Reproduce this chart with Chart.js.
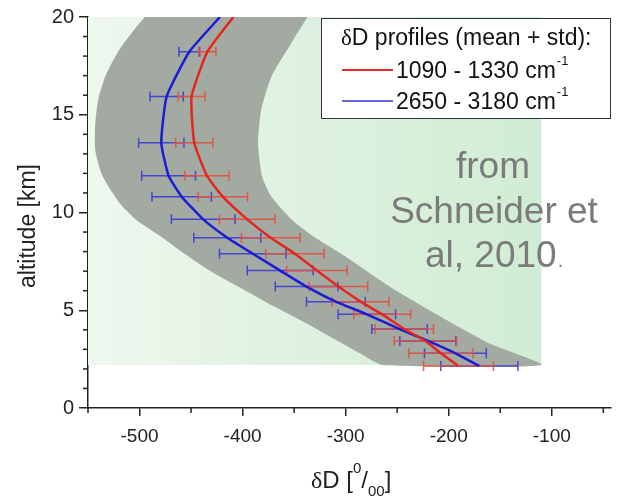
<!DOCTYPE html>
<html>
<head>
<meta charset="utf-8">
<script src="https://cdn.jsdelivr.net/npm/chart.js@4/dist/chart.umd.min.js"></script>
<style>
  html, body { margin: 0; padding: 0; background: #fff; }
</style>
</head>
<body>
<canvas id="perfil" width="617" height="499"></canvas>
<script>
// alturas de las barras de error [km] (la ultima es el tope del grafico, sin barra)
const alturas = [2.15, 2.80, 3.43, 4.04, 4.79, 5.44, 6.21, 7.03, 7.89, 8.71, 9.65, 10.81, 11.88, 13.57, 15.93, 18.22, 20];

// 1090 - 1330 cm-1 (rojo)
const rojoMedia = [-190.5, -207.6, -222.6, -243.1, -264.5, -285.5, -307, -327.9, -349.2, -372.7, -395.5, -419.2, -434.6, -446.9, -449.5, -434.2, -409];
const rojoStd = [33.9, 31.2, 30.2, 28.3, 27.6, 27.5, 28.4, 29.3, 28.3, 28.4, 26.9, 24, 21.6, 18, 13.2, 8.3, null];

// 2650 - 3180 cm-1 (azul)
const azulMedia = [-170.3, -193.5, -220.2, -247.7, -279.4, -309.5, -337.9, -363.5, -390.1, -414.8, -438.2, -459.1, -471.8, -478.9, -473.7, -451.7, -422];
const azulStd = [37.4, 30, 27.2, 26.9, 27.9, 28.5, 30.4, 32, 32.3, 32.5, 30.9, 28.8, 26.1, 22, 16.1, 10.1, null];

// banda gris: borde izquierdo (de arriba hacia abajo) y borde derecho (de abajo hacia arriba)
const bandaIzqAlt = [20, 19.3, 18.3, 17.0, 15.8, 14.5, 13.2, 12.0, 11.15, 10.4, 9.62, 8.76, 7.91, 7.06, 6.2, 5.35, 4.5, 3.65, 2.8, 2.2];
const bandaIzq = [-495, -506, -520, -533, -540, -543, -543, -537, -528, -518, -503, -479, -457, -433, -404, -375, -344, -315, -286, -264];
const bandaDerAlt = [2.2, 3.31, 4.79, 6.2, 7.91, 8.8, 9.62, 10.81, 11.83, 13.54, 15.24, 16.95, 18.65, 20];
const bandaDer = [-110, -161, -212, -257, -305, -332, -352, -372, -381, -385, -382, -372, -353, -337];

// fondo verde
const fondoX = [-550, -110, -110, -550];
const fondoAlt = [2.2, 2.2, 20, 20];

// ticks
const xTicks = [-500, -400, -300, -200, -100];
const xMenores = [-550, -450, -350, -250, -150, -50];
const yTicks = [0, 5, 10, 15, 20];
const yMenores = [1, 2, 3, 4, 6, 7, 8, 9, 11, 12, 13, 14, 16, 17, 18, 19];

const SANS = "'Liberation Sans', Arial, sans-serif";
const SERIF = "'Liberation Serif', 'Times New Roman', serif";

function puntos(xs, ys) {
    return xs.map((x, i) => ({x: x, y: ys[i]}));
}

function barras(media, std) {
    const out = [];
    alturas.forEach((a, i) => {
        if (std[i] == null) return;
        out.push({x: media[i] - std[i], y: a}, {x: media[i] + std[i], y: a}, {x: null, y: null});
    });
    return out;
}

// ticks chicos, leyenda, texto y titulos de los ejes
const extras = {
    id: 'extras',
    afterDraw(chart) {
        const {ctx, chartArea: a} = chart;
        const x = chart.scales.x, y = chart.scales.y;
        ctx.save();
        ctx.strokeStyle = '#222';
        ctx.lineWidth = 1.5;
        xMenores.forEach(v => {
            const px = x.getPixelForValue(v);
            ctx.beginPath(); ctx.moveTo(px, a.bottom); ctx.lineTo(px, a.bottom + 5); ctx.stroke();
        });
        yMenores.forEach(v => {
            const py = y.getPixelForValue(v);
            ctx.beginPath(); ctx.moveTo(a.left - 5, py); ctx.lineTo(a.left, py); ctx.stroke();
        });

        // leyenda
        ctx.fillStyle = '#fff';
        ctx.fillRect(321, 18, 289, 100);
        ctx.strokeStyle = '#333';
        ctx.lineWidth = 1;
        ctx.strokeRect(321.5, 18.5, 289, 100);
        ctx.fillStyle = '#111';
        ctx.textBaseline = 'alphabetic';
        ctx.textAlign = 'left';
        ctx.font = '23px ' + SERIF;
        ctx.fillText('δ', 341, 45);
        let w = ctx.measureText('δ').width;
        ctx.font = '23px ' + SANS;
        ctx.fillText('D profiles (mean + std):', 341 + w, 45);

        const items = [['1090 - 1330 cm', '#e0302a', 2, 70], ['2650 - 3180 cm', '#3434c8', 1.5, 101]];
        items.forEach(([txt, col, lw, yy]) => {
            ctx.strokeStyle = col; ctx.lineWidth = lw;
            ctx.beginPath(); ctx.moveTo(342, yy); ctx.lineTo(393, yy); ctx.stroke();
            ctx.font = '23px ' + SANS;
            ctx.fillText(txt, 396, yy + 8);
            const tw = ctx.measureText(txt).width;
            ctx.font = '13px ' + SANS;
            ctx.fillText('-1', 396 + tw + 1, yy - 5);
        });

        // referencia
        ctx.fillStyle = '#7b7b7b';
        ctx.font = '37px ' + SANS;
        ctx.textAlign = 'center';
        ctx.fillText('from', 493, 178);
        ctx.fillText('Schneider et', 494, 223);
        ctx.textAlign = 'left';
        ctx.fillText('al, 2010', 425, 267);
        w = ctx.measureText('al, 2010').width;
        ctx.font = '20px ' + SANS;
        ctx.fillText('.', 425 + w + 1, 267);

        // titulo eje x: δD [0/00]
        ctx.fillStyle = '#222';
        let cx = 311;
        ctx.font = '24px ' + SERIF;
        ctx.fillText('δ', cx, 488); cx += ctx.measureText('δ').width;
        ctx.font = '24px ' + SANS;
        ctx.fillText('D [', cx, 488); cx += ctx.measureText('D [').width;
        ctx.font = '15px ' + SANS;
        ctx.fillText('0', cx, 473); cx += ctx.measureText('0').width;
        ctx.font = '24px ' + SANS;
        ctx.fillText('/', cx, 488); cx += ctx.measureText('/').width;
        ctx.font = '15px ' + SANS;
        ctx.fillText('00', cx, 496); cx += ctx.measureText('00').width;
        ctx.font = '24px ' + SANS;
        ctx.fillText(']', cx, 488);

        // titulo eje y
        ctx.translate(35, 226);
        ctx.rotate(-Math.PI / 2);
        ctx.textAlign = 'center';
        ctx.font = '23px ' + SANS;
        ctx.fillText('altitude [km]', 0, 0);
        ctx.restore();
    }
};

document.addEventListener("DOMContentLoaded", () => {

    const gridEje = {display: true, drawOnChartArea: false, drawTicks: true, color: '#222', lineWidth: 1.5};

    new Chart(document.getElementById('perfil'), {
        type: 'line',
        data: {
            datasets: [
                // lineas (arriba de todo)
                {data: puntos(rojoMedia, alturas), borderColor: '#e3271f', borderWidth: 2.5, pointRadius: 0, tension: 0.15, fill: false},
                {data: puntos(azulMedia, alturas), borderColor: '#1c1cd6', borderWidth: 2.5, pointRadius: 0, tension: 0.15, fill: false},
                // barras de error
                {data: barras(rojoMedia, rojoStd), borderColor: 'rgba(226,80,62,0.9)', borderWidth: 1.5, spanGaps: false,
                 pointStyle: 'line', pointRotation: 90, pointRadius: 5, pointBorderWidth: 1.5, pointBorderColor: 'rgba(226,80,62,0.9)', fill: false},
                {data: barras(azulMedia, azulStd), borderColor: 'rgba(60,60,212,0.9)', borderWidth: 1.5, spanGaps: false,
                 pointStyle: 'line', pointRotation: 90, pointRadius: 5, pointBorderWidth: 1.5, pointBorderColor: 'rgba(60,60,212,0.9)', fill: false},
                // banda gris
                {data: puntos(bandaIzq, bandaIzqAlt).concat(puntos(bandaDer, bandaDerAlt)),
                 borderWidth: 0, pointRadius: 0, tension: 0.2, fill: 'shape', backgroundColor: '#a3aaa2'},
                // fondo verde
                {data: puntos(fondoX, fondoAlt), borderWidth: 0, pointRadius: 0, tension: 0, fill: 'shape',
                 backgroundColor: (c) => {
                    const area = c.chart.chartArea;
                    if (!area) return '#dcefdd';
                    const g = c.chart.ctx.createLinearGradient(area.left, 0, area.left + 460, 0);
                    g.addColorStop(0, '#eff8ef');
                    g.addColorStop(0.4, '#e0f2e1');
                    g.addColorStop(1, '#d0ecd4');
                    return g;
                 }}
            ]
        },
        options: {
            responsive: false,
            animation: false,
            layout: {padding: {top: 17, left: 0, right: 0, bottom: 0}},
            plugins: {legend: {display: false}, tooltip: {enabled: false}},
            scales: {
                x: {
                    type: 'linear', min: -550, max: -43,
                    afterFit: (s) => { s.height = 91; },
                    afterBuildTicks: (s) => { s.ticks = xTicks.map(v => ({value: v})); },
                    grid: Object.assign({tickLength: 8}, gridEje),
                    border: {display: true, color: '#222', width: 1.5},
                    ticks: {font: {family: SANS, size: 19}, color: '#222', padding: 9, maxRotation: 0, autoSkip: false}
                },
                y: {
                    type: 'linear', min: 0, max: 20,
                    afterFit: (s) => { s.width = 88; },
                    afterBuildTicks: (s) => { s.ticks = yTicks.map(v => ({value: v})); },
                    grid: Object.assign({tickLength: 9}, gridEje),
                    border: {display: true, color: '#222', width: 1.5},
                    ticks: {font: {family: SANS, size: 20}, color: '#222', padding: 5}
                }
            }
        },
        plugins: [extras]
    });

});
</script>
</body>
</html>
